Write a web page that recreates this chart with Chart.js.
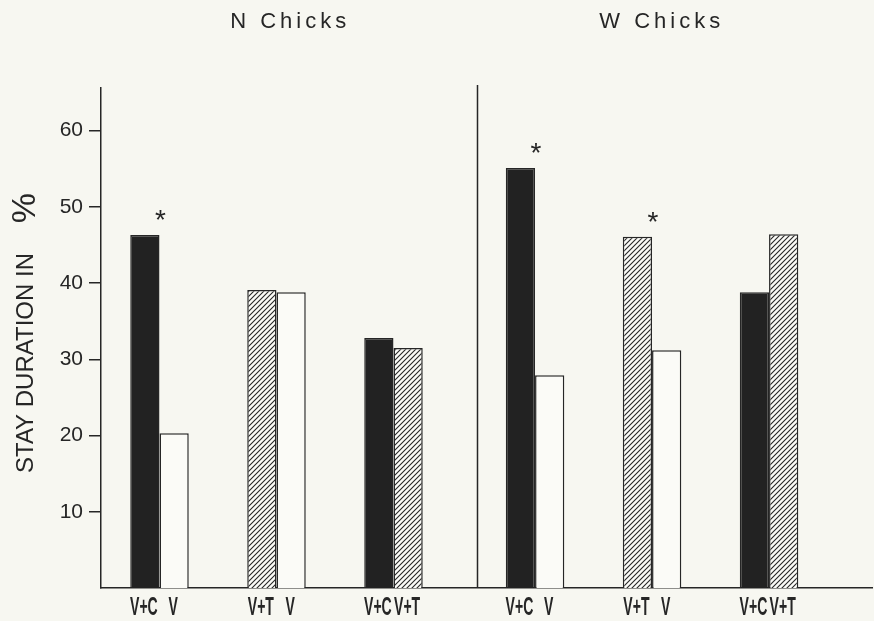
<!DOCTYPE html>
<html>
<head>
<meta charset="utf-8">
<script src="https://cdn.jsdelivr.net/npm/chart.js@4.4.0/dist/chart.umd.min.js"></script>
<style>
    body { margin: 0; background: #f7f7f1; }
    #wrap { width: 874px; height: 621px; position: relative; }
</style>
</head>
<body>
<div id="wrap"><canvas id="stayChart"></canvas></div>
<script>
// Data
const panelTitles = ['N Chicks', 'W Chicks'];
const firstCond = ['V+C', 'V+T', 'V+C', 'V+C', 'V+T', 'V+C'];
const secondCond = ['V', 'V', 'V+T', 'V', 'V', 'V+T'];
const firstValues = [46.3, 39.1, 32.8, 55.1, 46.1, 38.8];
const secondValues = [20.3, 38.8, 31.5, 27.9, 31.2, 46.4];
const significant = [true, false, false, true, true, false];
const yTicks = [10, 20, 30, 40, 50, 60];

// Layout of the two panels along the x axis (units = group spacing)
const panelStart = [0, 3.21];
const xMax = 6.59;
const yMax = 65.6;
const ink = '#262626';

function groupX(i) {
    return panelStart[Math.floor(i / 3)] + 0.5 + (i % 3);
}
const groupPos = firstValues.map((v, i) => groupX(i));

// hatch pattern for V+T bars
function makeHatch() {
    const c = document.createElement('canvas');
    c.width = 5; c.height = 5;
    const g = c.getContext('2d');
    g.fillStyle = '#fbfbf7';
    g.fillRect(0, 0, 5, 5);
    g.strokeStyle = ink;
    g.lineWidth = 1.1;
    g.beginPath();
    g.moveTo(-1, 6); g.lineTo(6, -1);
    g.moveTo(-1, 1); g.lineTo(1, -1);
    g.moveTo(4, 6); g.lineTo(6, 4);
    g.stroke();
    return g.createPattern(c, 'repeat');
}
const hatch = makeHatch();

function fillFor(cond) {
    if (cond === 'V+C') return '#222222';
    if (cond === 'V+T') return hatch;
    return '#fbfbf7';
}

const annotations = {
    id: 'annotations',
    afterDatasetsDraw(chart) {
        const ctx = chart.ctx;
        const xs = chart.scales.x;
        const area = chart.chartArea;
        const m0 = chart.getDatasetMeta(0).data;
        const m1 = chart.getDatasetMeta(1).data;
        ctx.save();
        ctx.fillStyle = ink;
        ctx.strokeStyle = ink;

        // divider between panels
        ctx.lineWidth = 1.5;
        ctx.beginPath();
        const dx = Math.round(xs.getPixelForValue(panelStart[1])) + 0.5;
        ctx.moveTo(dx, area.top - 3);
        ctx.lineTo(dx, area.bottom);
        ctx.stroke();

        // panel titles
        ctx.font = '22px "Liberation Sans", Arial, sans-serif';
        ctx.letterSpacing = '4px';
        ctx.textAlign = 'center';
        ctx.textBaseline = 'middle';
        panelTitles.forEach((t, p) => {
            ctx.fillText(t, xs.getPixelForValue(panelStart[p] + 1.6) + 2 - p * 4, 22);
        });
        ctx.letterSpacing = '0px';

        // asterisks
        ctx.font = '28px "Liberation Sans", Arial, sans-serif';
        ctx.textBaseline = 'alphabetic';
        significant.forEach((s, i) => {
            if (!s) return;
            const x = (m0[i].x + m1[i].x) / 2 + 1;
            const y = Math.min(m0[i].y, m1[i].y) - 6;
            ctx.fillText('*', x, y);
        });

        // condition labels under each bar
        ctx.font = 'bold 26px "Liberation Sans", Arial, sans-serif';
        ctx.textBaseline = 'middle';
        [[m0, firstCond], [m1, secondCond]].forEach(([bars, conds]) => {
            bars.forEach((b, i) => {
                ctx.save();
                ctx.translate(b.x - 1, 608);
                ctx.scale(0.54, 1);
                ctx.fillText(conds[i], 0, 0);
                ctx.restore();
            });
        });

        // y axis title with a larger percent sign
        ctx.translate(33, (area.top + area.bottom) / 2 - 5);
        ctx.rotate(-Math.PI / 2);
        ctx.textAlign = 'left';
        ctx.textBaseline = 'alphabetic';
        ctx.font = '24px "Liberation Sans", Arial, sans-serif';
        const part1 = 'STAY DURATION IN';
        const w1 = ctx.measureText(part1).width;
        ctx.save();
        ctx.translate(-140, 0);
        ctx.scale(220 / w1, 1);
        ctx.fillText(part1, 0, 0);
        ctx.restore();
        ctx.font = '34px "Liberation Sans", Arial, sans-serif';
        const w2 = ctx.measureText('%').width;
        ctx.fillText('%', 140 - w2, 2);
        ctx.restore();
    }
};

const ctx = document.getElementById('stayChart').getContext('2d');
const stayChart = new Chart(ctx, {
    type: 'bar',
    data: {
        datasets: [{
            label: 'first',
            data: firstValues.map((v, i) => ({ x: groupPos[i], y: v })),
            backgroundColor: firstCond.map(fillFor),
            borderColor: ink,
            borderWidth: 1.5
        }, {
            label: 'second',
            data: secondValues.map((v, i) => ({ x: groupPos[i], y: v })),
            backgroundColor: secondCond.map(fillFor),
            borderColor: ink,
            borderWidth: 1.5
        }]
    },
    options: {
        responsive: true,
        maintainAspectRatio: false,
        animation: false,
        categoryPercentage: 0.5,
        barPercentage: 1,
        layout: {
            padding: { top: 88, right: 2, left: 0, bottom: 0 }
        },
        plugins: {
            legend: { display: false },
            tooltip: { enabled: false }
        },
        scales: {
            x: {
                type: 'linear',
                offset: false,
                min: 0,
                max: xMax,
                afterBuildTicks: function(scale) {
                    scale.ticks = groupPos.map(v => ({ value: v }));
                },
                ticks: { display: false },
                grid: { display: false },
                border: { display: true, color: ink, width: 1.5 },
                afterFit: function(scale) { scale.height = 33; }
            },
            y: {
                min: 0,
                max: yMax,
                afterBuildTicks: function(scale) {
                    scale.ticks = yTicks.map(v => ({ value: v }));
                },
                ticks: {
                    color: ink,
                    padding: 6,
                    font: { family: '"Liberation Sans", Arial, sans-serif', size: 21 }
                },
                grid: {
                    drawOnChartArea: false,
                    tickLength: 12,
                    color: ink,
                    lineWidth: 1.5
                },
                border: { display: true, color: ink, width: 1.5 },
                afterFit: function(scale) { scale.width = 101; }
            }
        }
    },
    plugins: [annotations]
});
</script>
</body>
</html>
